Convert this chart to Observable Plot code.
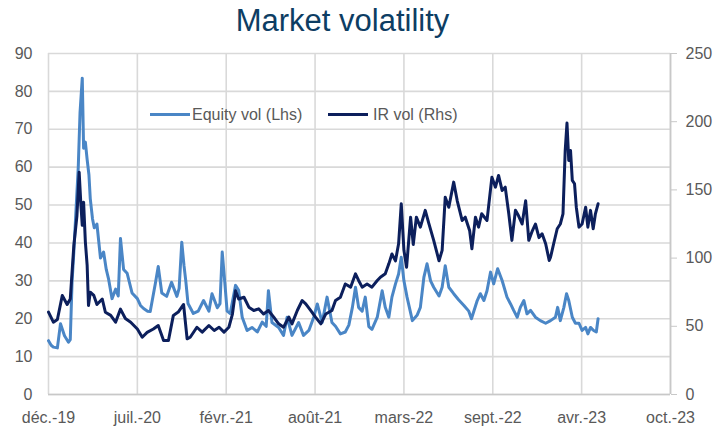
<!DOCTYPE html>
<html><head><meta charset="utf-8">
<script src="https://cdn.jsdelivr.net/npm/d3@7"></script>
<script src="https://cdn.jsdelivr.net/npm/@observablehq/plot@0.6"></script>
<style>
body{margin:0;background:#fff;font-family:"Liberation Sans",Arial,sans-serif;}
#wrap{position:relative;width:723px;height:430px;overflow:hidden;}
#title{position:absolute;left:-19px;top:1px;width:723px;height:40px;line-height:40px;text-align:center;}
#title span{display:inline-block;font-size:31px;color:#0d3d63;}
#chart{position:absolute;left:0;top:40px;}
.lg{position:absolute;font-size:16px;color:#595959;line-height:20px;white-space:nowrap;}
.sw{position:absolute;height:3px;}
</style></head><body>
<div id="wrap">
  <div id="title"><span>Market volatility</span></div>
  <div id="chart"></div>
  <div class="sw" id="sw1" style="left:150px;top:113px;width:40px;"></div>
  <div class="lg" id="lg1" style="left:192px;top:105px;"></div>
  <div class="sw" id="sw2" style="left:328px;top:113px;width:40px;"></div>
  <div class="lg" id="lg2" style="left:373px;top:105px;"></div>
</div>
<script>
const titleText = "Market volatility";
const seriesNames = ["Equity vol (Lhs)", "IR vol (Rhs)"];
const seriesColors = ["#4a86c6", "#0c1f5c"];

const xTickDates = ["2019-12-31","2020-07-18","2021-02-03","2021-08-22","2022-03-10","2022-09-26","2023-04-14","2023-10-31"];
const xTickLabels = ["déc.-19","juil.-20","févr.-21","août-21","mars-22","sept.-22","avr.-23","oct.-23"];
const leftTicks = [0,10,20,30,40,50,60,70,80,90];
const rightTicks = [0,50,100,150,200,250];

const equityDates = ["2019-12-31","2020-01-06","2020-01-11","2020-01-20","2020-01-27","2020-02-05","2020-02-14","2020-02-18","2020-02-22","2020-02-26","2020-03-07","2020-03-11","2020-03-16","2020-03-19","2020-03-23","2020-03-27","2020-03-31","2020-04-03","2020-04-08","2020-04-12","2020-04-18","2020-04-26","2020-05-03","2020-05-09","2020-05-14","2020-05-22","2020-05-30","2020-06-05","2020-06-10","2020-06-17","2020-06-25","2020-07-06","2020-07-18","2020-07-25","2020-08-01","2020-08-10","2020-08-16","2020-08-28","2020-09-03","2020-09-11","2020-09-22","2020-10-03","2020-10-15","2020-10-20","2020-10-26","2020-10-31","2020-11-04","2020-11-09","2020-11-21","2020-12-02","2020-12-14","2020-12-26","2021-01-02","2021-01-14","2021-01-20","2021-01-25","2021-01-31","2021-02-05","2021-02-12","2021-02-24","2021-03-03","2021-03-11","2021-03-22","2021-04-02","2021-04-14","2021-04-25","2021-05-04","2021-05-09","2021-05-17","2021-06-01","2021-06-12","2021-06-20","2021-07-01","2021-07-16","2021-07-27","2021-08-08","2021-08-19","2021-08-27","2021-09-07","2021-09-18","2021-09-29","2021-10-07","2021-10-18","2021-10-29","2021-11-06","2021-11-14","2021-11-21","2021-11-28","2021-12-06","2021-12-13","2021-12-21","2021-12-28","2022-01-09","2022-01-20","2022-01-27","2022-02-04","2022-02-11","2022-02-19","2022-02-26","2022-03-04","2022-03-10","2022-03-17","2022-03-29","2022-04-09","2022-04-16","2022-04-24","2022-05-01","2022-05-09","2022-05-16","2022-05-28","2022-06-04","2022-06-11","2022-06-19","2022-06-30","2022-07-11","2022-07-23","2022-08-03","2022-08-09","2022-08-22","2022-08-29","2022-09-06","2022-09-13","2022-09-21","2022-09-28","2022-10-07","2022-10-17","2022-10-28","2022-11-05","2022-11-12","2022-11-20","2022-11-27","2022-12-05","2022-12-12","2022-12-20","2022-12-31","2023-01-11","2023-01-23","2023-02-03","2023-02-14","2023-02-19","2023-02-25","2023-03-05","2023-03-11","2023-03-16","2023-03-24","2023-03-31","2023-04-08","2023-04-15","2023-04-23","2023-04-28","2023-05-04","2023-05-11","2023-05-17","2023-05-21"];
const equityValues = [14.2,13.0,12.5,12.3,18.7,15.5,13.8,14.5,29.6,37.6,60,74.5,83.5,65,66.6,62,58,51.7,46.4,44,45,36,37.6,33,30.6,25.3,27.8,26,41.2,33,32,26.8,25.3,23.5,22.7,22,21.9,29.6,33.8,26.8,25.9,29.6,25.9,28,40.2,34,30,24,21.4,22,24.8,22,26.6,22.9,24,37.6,29.3,22,21.4,28.8,27.5,20.4,16.9,17.7,16.5,19.1,18,27.4,19,17.7,15.6,20.4,15.6,19,15.6,16.9,20.4,23.9,19,25.7,19,18,16,16.5,18.3,23,28.3,23,22,25.7,17.9,17.2,20.4,27.4,23,20.4,25.7,29.2,31.8,36.2,30,25.7,19.5,21,23,31,34.5,30,28.3,26,28.3,34,28.3,26.6,25,23.5,22,20,24.8,26.6,24.8,27.4,32.3,29.2,33.2,30.1,25.7,23.9,22.2,20.4,23,24.8,21.3,22.2,20.4,19.5,18.8,19.5,20.4,23,19.5,23,26.6,24.8,20.4,18.8,18.8,16.9,17.7,16,17.7,16.9,16.5,20];

const irDates = ["2019-12-31","2020-01-11","2020-01-20","2020-01-31","2020-02-11","2020-02-18","2020-02-26","2020-03-04","2020-03-09","2020-03-13","2020-03-16","2020-03-19","2020-03-23","2020-03-27","2020-03-30","2020-04-03","2020-04-11","2020-04-18","2020-04-30","2020-05-07","2020-05-19","2020-05-30","2020-06-10","2020-06-21","2020-07-03","2020-07-18","2020-07-29","2020-08-09","2020-08-23","2020-09-03","2020-09-15","2020-09-26","2020-10-07","2020-10-18","2020-10-30","2020-11-07","2020-11-14","2020-11-29","2020-12-11","2020-12-26","2021-01-07","2021-01-18","2021-01-29","2021-02-09","2021-02-17","2021-02-24","2021-03-03","2021-03-15","2021-03-26","2021-04-06","2021-04-17","2021-04-28","2021-05-09","2021-05-21","2021-06-01","2021-06-12","2021-06-24","2021-07-01","2021-07-13","2021-07-24","2021-08-01","2021-08-12","2021-08-23","2021-09-04","2021-09-15","2021-09-29","2021-10-07","2021-10-18","2021-10-29","2021-11-10","2021-11-21","2021-11-28","2021-12-06","2021-12-17","2021-12-28","2022-01-09","2022-01-16","2022-01-27","2022-02-04","2022-02-11","2022-02-19","2022-02-26","2022-03-04","2022-03-10","2022-03-16","2022-03-25","2022-03-31","2022-04-07","2022-04-16","2022-04-27","2022-05-05","2022-05-16","2022-05-28","2022-06-04","2022-06-11","2022-06-19","2022-06-30","2022-07-08","2022-07-19","2022-07-26","2022-08-05","2022-08-10","2022-08-18","2022-08-25","2022-09-01","2022-09-13","2022-09-24","2022-10-02","2022-10-09","2022-10-17","2022-10-24","2022-11-01","2022-11-08","2022-11-16","2022-11-23","2022-12-01","2022-12-09","2022-12-16","2022-12-24","2022-12-31","2023-01-08","2023-01-15","2023-01-23","2023-01-31","2023-02-03","2023-02-10","2023-02-18","2023-02-25","2023-03-03","2023-03-08","2023-03-12","2023-03-16","2023-03-20","2023-03-24","2023-03-29","2023-04-02","2023-04-08","2023-04-15","2023-04-23","2023-04-28","2023-05-04","2023-05-10","2023-05-15","2023-05-21"];
const irValues = [60.4,53,55,72.6,66,70,109,131,163,138.6,124,141,111.7,94.6,65.3,75,72.6,66,70,60.3,58,53,62.6,55.7,53,48,42,45.5,48,50.6,39.6,39.6,58,60.4,66,40.8,42,49.3,45.7,50.6,46.9,49.3,45.7,49.3,59,76,70,71.3,64,61.6,62.8,59,61.6,56.7,51.8,49.3,56.7,51.8,61.6,68.9,66.5,61.6,56.7,51.8,59,61.6,68.9,71.3,81,78.7,88.5,83.6,78.7,81,78.7,83.6,86,88.5,95.8,103,98,110.5,139.8,105.7,93.3,130,110,130,122.7,135,125.5,113,98,105.7,144.7,137.3,155.7,142,127.6,130,120,106.8,130,122.7,132.5,127.6,159.3,152,160.6,149.6,152,132.5,113,135,131,125,142,113,120,125,115,117.8,110.5,98.2,100.6,110.5,121.5,125,132.5,178.9,199,171.6,178.9,157,154.5,137.3,122.7,125,137.3,122.7,135,121.5,132.5,139.8];

const parse = d3.utcParse("%Y-%m-%d");
const equity = equityDates.map((d, i) => ({date: parse(d), v: equityValues[i]}));
const ir = irDates.map((d, i) => ({date: parse(d), v: irValues[i]}));
const tickDates = xTickDates.map(parse);
const k = 90 / 250; // right-axis value to left-axis scale

const chart = Plot.plot({
  width: 723,
  height: 390,
  marginLeft: 48,
  marginRight: 53,
  marginTop: 13,
  marginBottom: 36,
  style: {fontFamily: "'Liberation Sans', Arial, sans-serif", fontSize: "16px", color: "#595959", background: "#fff"},
  x: {type: "utc", domain: [tickDates[0], tickDates[tickDates.length - 1]]},
  y: {domain: [0, 90]},
  marks: [
    Plot.gridX(tickDates, {stroke: "#d9d9d9", strokeOpacity: 1, strokeWidth: 1.6}),
    Plot.gridY(leftTicks, {stroke: "#d9d9d9", strokeOpacity: 1, strokeWidth: 1.6}),
    Plot.ruleY([0], {stroke: "#c8c8c8", strokeWidth: 1.6}),
    Plot.ruleX([tickDates[tickDates.length - 1]], {stroke: "#c8c8c8", strokeWidth: 1.6}),
    Plot.axisX(tickDates, {tickSize: 0, tickPadding: 17, fill: "#595959",
      tickFormat: d => xTickLabels[tickDates.findIndex(t => +t === +d)], label: null}),
    Plot.axisY(leftTicks, {anchor: "left", tickSize: 0, tickPadding: 16, fill: "#595959", label: null}),
    Plot.axisY(rightTicks.map(v => v * k), {anchor: "right", tickSize: 6, tickPadding: 9, stroke: "#c8c8c8", fill: "#595959",
      tickFormat: d => String(Math.round(d / k)), label: null}),
    Plot.line(equity, {x: "date", y: "v", stroke: seriesColors[0], strokeWidth: 3, strokeLinejoin: "round"}),
    Plot.line(ir, {x: "date", y: d => d.v * k, stroke: seriesColors[1], strokeWidth: 3, strokeLinejoin: "round"})
  ]
});
document.getElementById("chart").appendChild(chart);
document.querySelector("#title span").textContent = titleText;
document.getElementById("lg1").textContent = seriesNames[0];
document.getElementById("lg2").textContent = seriesNames[1];
document.getElementById("sw1").style.background = seriesColors[0];
document.getElementById("sw2").style.background = seriesColors[1];
</script>
</body></html>
